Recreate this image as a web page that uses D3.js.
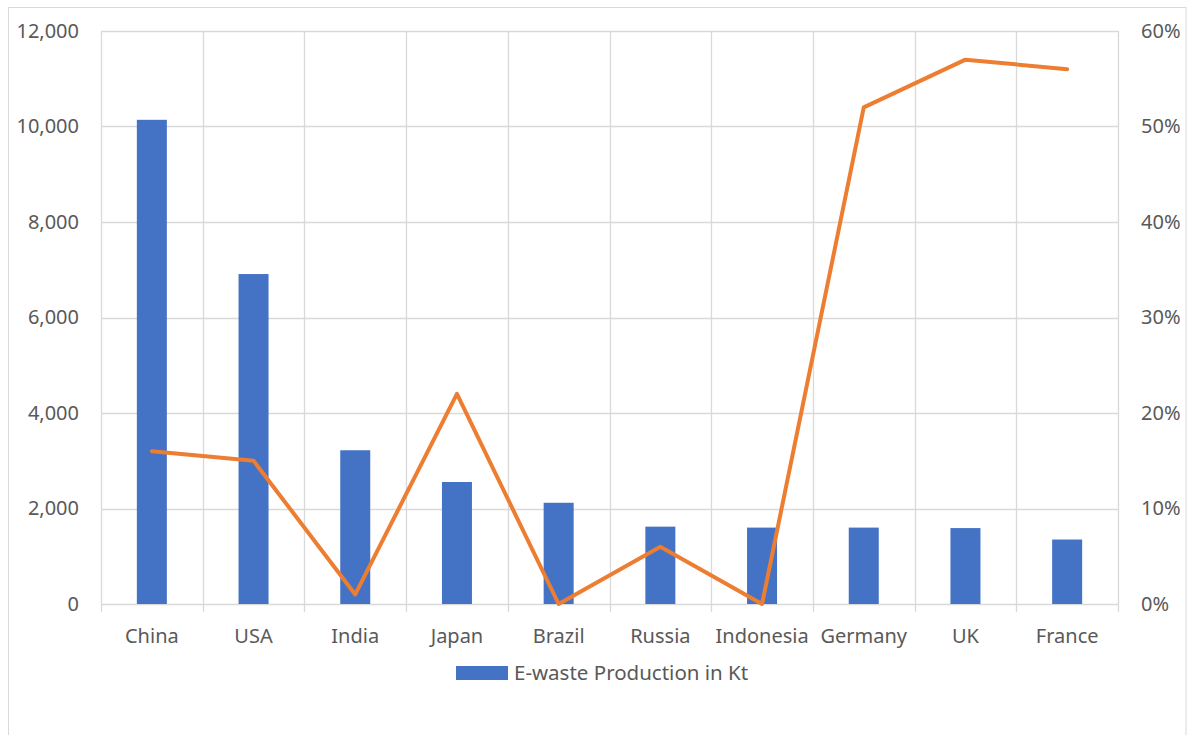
<!DOCTYPE html>
<html>
<head>
<meta charset="utf-8">
<script src="https://cdn.jsdelivr.net/npm/d3@7"></script>
<style>
  body { margin: 0; background: #fff; }
  svg text { font-family: "Noto Sans", "Open Sans", sans-serif; fill: #595959; }
</style>
</head>
<body>
<svg id="chart"></svg>
<script>
const countries = ["China", "USA", "India", "Japan", "Brazil", "Russia", "Indonesia", "Germany", "UK", "France"];
const ewaste = [10140, 6910, 3220, 2555, 2120, 1620, 1600, 1600, 1590, 1350];
const recycleRate = [0.16, 0.15, 0.01, 0.22, 0.00, 0.06, 0.00, 0.52, 0.57, 0.56];
const leftTicks = [0, 2000, 4000, 6000, 8000, 10000, 12000];
const rightTicks = [0, 0.1, 0.2, 0.3, 0.4, 0.5, 0.6];
const legendLabel = "E-waste Production in Kt";

const width = 1192, height = 735;
const margin = { top: 31, right: 74, bottom: 131, left: 101 };

const svg = d3.select('#chart')
  .attr('width', width)
  .attr('height', height);

// chart area border (bottom runs off the picture)
svg.append('rect')
  .attr('x', 8.5).attr('y', 7.5)
  .attr('width', 1177.5).attr('height', 760)
  .attr('fill', 'none')
  .attr('stroke', '#d9d9d9');

const xScale = d3.scaleBand()
  .domain(countries)
  .range([margin.left, width - margin.right]);
const yLeft = d3.scaleLinear()
  .domain([0, 12000])
  .range([height - margin.bottom, margin.top]);
const yRight = d3.scaleLinear()
  .domain([0, 0.6])
  .range([height - margin.bottom, margin.top]);

// horizontal gridlines
svg.append('g')
  .selectAll('line')
  .data(leftTicks)
  .join('line')
    .attr('x1', margin.left)
    .attr('x2', width - margin.right)
    .attr('y1', d => Math.round(yLeft(d)) + 0.5)
    .attr('y2', d => Math.round(yLeft(d)) + 0.5)
    .attr('stroke', '#d9d9d9')
    .attr('stroke-width', 1.3);

// vertical gridlines at category boundaries, with ticks below the axis
const bounds = countries.map(c => xScale(c)).concat([xScale.range()[1]]);
svg.append('g')
  .selectAll('line')
  .data(bounds)
  .join('line')
    .attr('x1', d => Math.round(d) + 0.5)
    .attr('x2', d => Math.round(d) + 0.5)
    .attr('y1', margin.top)
    .attr('y2', yLeft(0) + 8)
    .attr('stroke', '#d9d9d9')
    .attr('stroke-width', 1.3);

// bars
const barW = xScale.bandwidth() * 0.295;
svg.append('g')
  .selectAll('rect')
  .data(ewaste)
  .join('rect')
    .attr('x', (d, i) => xScale(countries[i]) + xScale.bandwidth() / 2 - barW / 2)
    .attr('y', d => yLeft(d))
    .attr('width', barW)
    .attr('height', d => yLeft(0) - yLeft(d))
    .attr('fill', '#4472C4');

// line series
const line = d3.line()
  .x((d, i) => xScale(countries[i]) + xScale.bandwidth() / 2)
  .y(d => yRight(d));
svg.append('path')
  .datum(recycleRate)
  .attr('d', line)
  .attr('fill', 'none')
  .attr('stroke', '#ED7D31')
  .attr('stroke-width', 4)
  .attr('stroke-linejoin', 'round')
  .attr('stroke-linecap', 'round');

// left axis labels
const leftAxis = d3.axisLeft(yLeft)
  .tickValues(leftTicks)
  .tickFormat(d3.format(','))
  .tickSize(0)
  .tickPadding(22);
svg.append('g')
  .attr('transform', `translate(${margin.left},0)`)
  .call(leftAxis)
  .call(g => g.select('.domain').remove())
  .selectAll('text')
    .style('font-size', '20px')
    .attr('fill', '#595959');

// right axis labels
const rightAxis = d3.axisRight(yRight)
  .tickValues(rightTicks)
  .tickFormat(d3.format('.0%'))
  .tickSize(0)
  .tickPadding(23);
svg.append('g')
  .attr('transform', `translate(${width - margin.right},0)`)
  .call(rightAxis)
  .call(g => g.select('.domain').remove())
  .selectAll('text')
    .style('font-size', '20px')
    .attr('fill', '#595959');

// category labels
const xAxis = d3.axisBottom(xScale)
  .tickSize(0)
  .tickPadding(25);
svg.append('g')
  .attr('transform', `translate(0,${yLeft(0)})`)
  .call(xAxis)
  .call(g => g.select('.domain').remove())
  .selectAll('text')
    .style('font-size', '20px')
    .attr('fill', '#595959');

// legend
const legend = svg.append('g').attr('transform', 'translate(456,666)');
legend.append('rect')
  .attr('width', 52).attr('height', 14)
  .attr('fill', '#4472C4');
legend.append('text')
  .attr('x', 58).attr('y', 14)
  .style('font-size', '20.5px')
  .text(legendLabel);
</script>
</body>
</html>
